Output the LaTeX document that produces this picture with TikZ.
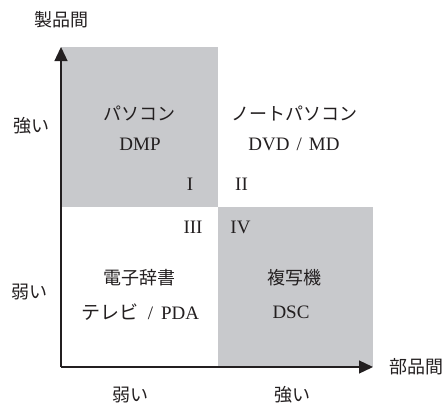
\documentclass[tikz,border=0pt]{standalone}
\usepackage{fontspec}
\setmainfont{Liberation Serif}
\newfontfamily\jp{Noto Sans CJK JP}
\usetikzlibrary{arrows.meta}
\definecolor{boxgray}{RGB}{200,201,204}
\definecolor{ink}{RGB}{35,31,32}
\tikzset{
  lbl/.style={font=\fontsize{18}{20}\selectfont\jp, text=ink, inner sep=0pt},
  latin/.style={font=\fontsize{19}{21}\selectfont, text=ink, inner sep=0pt},
  axis/.style={draw=ink, line width=1.3pt, -{Triangle[length=14pt,width=13pt]}},
  quad/.style={fill=boxgray}
}
\begin{document}
\begin{tikzpicture}[x=1pt,y=-1pt]
\useasboundingbox[fill=white] (0,0) rectangle (447,407);
% shaded quadrants
\fill[quad] (61,47) rectangle (217.5,207);
\fill[quad] (217.5,207) rectangle (372.5,366.5);
% axes
\coordinate (O) at (61,367);
\coordinate (Ytip) at (61,47);
\coordinate (Xtip) at (373,367);
\draw[axis] (O) -- (Ytip);
\draw[axis] (O) -- (Xtip);
% axis titles
\node[lbl] (yt) at (61,20) {製品間};
\node[lbl] (xt) at (416,367) {部品間};
\node[lbl] (ys) at (31,126) {強い};
\node[lbl] (yw) at (30,292) {弱い};
\node[lbl] (xw) at (130,395) {弱い};
\node[lbl] (xs) at (292,395) {強い};
% quadrant I
\node[lbl] (q1a) at (139,113) {パソコン};
\node[latin] (q1b) at (140,144) {DMP};
\node[latin] (q1n) at (190,184) {I};
% quadrant II
\node[lbl] (q2a) at (294,113) {ノートパソコン};
\node[latin] (q2b) at (294,144) {DVD\hspace{7pt}/\hspace{7pt}MD};
\node[latin] (q2n) at (241.5,184) {II};
% quadrant III
\node[latin] (q3n) at (193,227) {III};
\node[lbl] (q3a) at (139,278) {電子辞書};
\node[latin] (q3b) at (140.5,312) {{\jp テレビ}\hspace{9pt}/\hspace{8pt}PDA};
% quadrant IV
\node[latin] (q4n) at (240.5,227) {IV};
\node[lbl] (q4a) at (294,278) {複写機};
\node[latin] (q4b) at (291,312) {DSC};
\end{tikzpicture}
\end{document}
